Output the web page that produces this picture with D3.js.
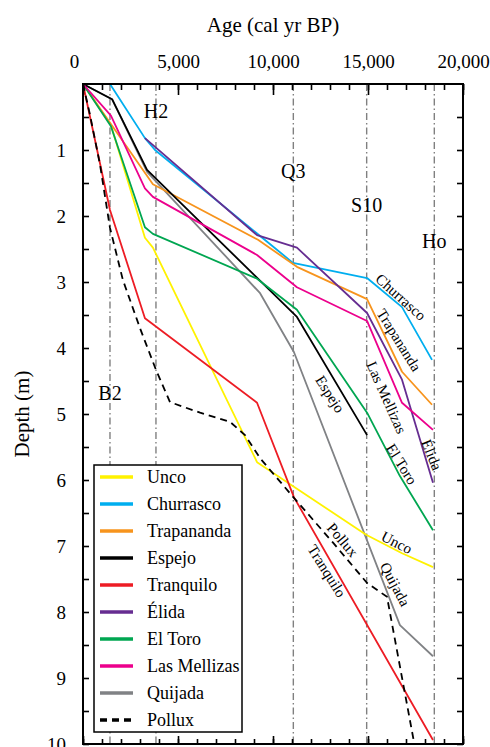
<!DOCTYPE html>
<html>
<head>
<meta charset="utf-8">
<script src="https://cdn.jsdelivr.net/npm/d3@7"></script>
<style>
  body { margin: 0; background: #fff; }
</style>
</head>
<body>
<script>
// age (cal yr BP), depth (m) pairs
var unco       = [[0,0],[1470,0.62],[3260,2.33],[3680,2.48],[9160,5.73],[14900,6.83],[16790,7.11],[18420,7.32]];
var churrasco  = [[1420,0],[3260,0.82],[3790,1.0],[11050,2.71],[14950,2.94],[16790,3.38],[18370,4.18]];
var trapananda = [[0,0],[3680,1.52],[9210,2.36],[11260,2.77],[14950,3.26],[16790,4.36],[18370,4.86]];
var espejo     = [[0,0],[1530,0.23],[3370,1.30],[11260,3.53],[14950,5.32]];
var tranquilo  = [[0,0],[1420,1.91],[3260,3.55],[9160,4.83],[11100,6.26],[18420,9.94]];
var elida      = [[3260,0.82],[9160,2.29],[11260,2.48],[14950,3.47],[16790,4.48],[18420,6.04]];
var elToro     = [[0,0],[1470,0.64],[3260,2.17],[3680,2.27],[9160,2.95],[11260,3.42],[14950,4.98],[16680,5.94],[18420,6.76]];
var mellizas   = [[0,0],[1470,0.48],[3260,1.58],[3680,1.71],[9160,2.59],[11260,3.08],[14950,3.59],[16790,4.83],[18420,5.24]];
var quijada    = [[0,0],[1530,0.23],[3370,1.33],[9320,3.17],[11100,4.06],[16680,8.20],[18420,8.67]];
var pollux     = [[0,0],[370,0.47],[900,1.23],[1420,2.18],[2100,2.97],[3000,3.70],[3840,4.33],[4580,4.82],
                  [6160,4.98],[7740,5.12],[8530,5.32],[9320,5.67],[11100,6.27],[13160,6.95],[14950,7.56],[16000,7.77],[17420,9.97]];

var names  = ["Unco","Churrasco","Trapananda","Espejo","Tranquilo","Élida","El Toro","Las Mellizas","Quijada","Pollux"];
var colors = ["#fff200","#00aeef","#f7941d","#000000","#ed1c24","#662d91","#00a651","#ec008c","#808285","#000000"];
var series = [unco, churrasco, trapananda, espejo, tranquilo, elida, elToro, mellizas, quijada, pollux];
var drawOrder = [8, 0, 1, 2, 3, 4, 5, 6, 7, 9];

// tephra / event markers
var events      = ["B2","H2","Q3","S10","Ho"];
var eventAges   = [1420, 3840, 11070, 14930, 18490];
var eventDepths = [4.79, 0.52, 1.42, 1.94, 2.48];

// labels along the curves: name, age, depth, angle
var curveLabels = [
  ["Churrasco", 16730, 3.23, 42],
  ["Trapananda", 16630, 3.88, 58],
  ["Las Mellizas", 15970, 4.75, 66],
  ["Élida", 18350, 5.62, 68],
  ["El Toro", 16770, 5.76, 58],
  ["Espejo", 13000, 4.70, 57],
  ["Unco", 16510, 6.95, 27],
  ["Quijada", 16420, 7.58, 62],
  ["Pollux", 13660, 6.91, 50],
  ["Tranquilo", 12830, 7.38, 58]
];

var serif = "Liberation Serif";

var width = 490, height = 747;
var margin = {top: 84, right: 27, bottom: 3, left: 83};

var svg = d3.select("body").append("svg")
    .attr("width", width)
    .attr("height", height);

var x = d3.scaleLinear().domain([0, 20000]).range([margin.left, width - margin.right]);
var y = d3.scaleLinear().domain([0, 10]).range([margin.top, height - margin.bottom]);

// event lines
svg.append("g").selectAll("line")
    .data(eventAges)
  .enter().append("line")
    .attr("x1", function(d) { return x(d); })
    .attr("x2", function(d) { return x(d); })
    .attr("y1", y(0))
    .attr("y2", y(10))
    .attr("stroke", "#808080")
    .attr("stroke-width", 1.4)
    .attr("stroke-dasharray", "7,3,1.5,3");

svg.append("g").selectAll("text")
    .data(events)
  .enter().append("text")
    .attr("x", function(d, i) { return x(eventAges[i]); })
    .attr("y", function(d, i) { return y(eventDepths[i]); })
    .attr("text-anchor", "middle")
    .attr("font-size", 20)
    .text(function(d) { return d; });

// curves
var line = d3.line()
    .x(function(d) { return x(d[0]); })
    .y(function(d) { return y(d[1]); });

svg.append("g").selectAll("path")
    .data(drawOrder)
  .enter().append("path")
    .attr("d", function(i) { return line(series[i]); })
    .attr("fill", "none")
    .attr("stroke", function(i) { return colors[i]; })
    .attr("stroke-width", 1.8)
    .attr("stroke-linejoin", "round")
    .attr("stroke-dasharray", function(i) { return names[i] === "Pollux" ? "7,5" : null; });

svg.append("g").selectAll("text")
    .data(curveLabels)
  .enter().append("text")
    .attr("transform", function(d) { return "translate(" + x(d[1]) + "," + y(d[2]) + ") rotate(" + d[3] + ")"; })
    .attr("text-anchor", "middle")
    .attr("dominant-baseline", "central")
    .attr("font-size", 15)
    .text(function(d) { return d[0]; });

// axes
svg.append("g")
    .attr("transform", "translate(0," + y(0) + ")")
    .call(d3.axisTop(x).tickValues(d3.range(0, 20001, 1000)).tickSize(-6).tickFormat(""));
svg.append("g")
    .attr("transform", "translate(0," + y(0) + ")")
    .call(d3.axisTop(x).tickValues(d3.range(0, 20001, 5000)).tickSize(-11).tickPadding(16).tickFormat(d3.format(",")))
    .call(function(g) {
      g.selectAll("text").attr("font-size", 19)
          .attr("dx", function(d) { return d === 0 ? -9 : 0; });
    });

svg.append("g")
    .attr("transform", "translate(0," + y(10) + ")")
    .call(d3.axisBottom(x).tickValues(d3.range(0, 20001, 1000)).tickSize(-5).tickFormat(""));
svg.append("g")
    .attr("transform", "translate(0," + y(10) + ")")
    .call(d3.axisBottom(x).tickValues(d3.range(0, 20001, 5000)).tickSize(-8).tickFormat(""));

svg.append("g")
    .attr("transform", "translate(" + x(0) + ",0)")
    .call(d3.axisLeft(y).tickValues(d3.range(0.5, 10, 1)).tickSize(-6).tickFormat(""));
svg.append("g")
    .attr("transform", "translate(" + x(0) + ",0)")
    .call(d3.axisLeft(y).tickValues(d3.range(1, 11, 1)).tickSize(-6).tickPadding(17))
    .call(function(g) { g.selectAll("text").attr("font-size", 19); });

svg.append("g")
    .attr("transform", "translate(" + x(20000) + ",0)")
    .call(d3.axisRight(y).tickValues(d3.range(0.5, 10.01, 0.5)).tickSize(-6).tickFormat(""));

svg.selectAll(".domain").remove();
svg.selectAll(".tick line").attr("stroke", "#000").attr("stroke-width", 1.6);

svg.append("rect")
    .attr("x", x(0))
    .attr("y", y(0))
    .attr("width", x(20000) - x(0))
    .attr("height", y(10) - y(0))
    .attr("fill", "none")
    .attr("stroke", "#000")
    .attr("stroke-width", 2);

// titles
svg.append("text")
    .attr("x", (x(0) + x(20000)) / 2)
    .attr("y", 32)
    .attr("text-anchor", "middle")
    .attr("font-size", 21)
    .text("Age (cal yr BP)");

svg.append("text")
    .attr("transform", "translate(29," + (y(0) + y(10)) / 2 + ") rotate(-90)")
    .attr("text-anchor", "middle")
    .attr("font-size", 21)
    .text("Depth (m)");

// legend
var legend = svg.append("g").attr("transform", "translate(94,465)");
legend.append("rect")
    .attr("width", 148)
    .attr("height", 267)
    .attr("fill", "#fff")
    .attr("stroke", "#000")
    .attr("stroke-width", 1.5);

var item = legend.selectAll("g.item")
    .data(names)
  .enter().append("g")
    .attr("class", "item")
    .attr("transform", function(d, i) { return "translate(0," + (12 + i * 27) + ")"; });

item.append("line")
    .attr("x1", 6)
    .attr("x2", 39)
    .attr("stroke", function(d, i) { return colors[i]; })
    .attr("stroke-width", 3.5)
    .attr("stroke-dasharray", function(d) { return d === "Pollux" ? "7,5" : null; });

item.append("text")
    .attr("x", 53)
    .attr("dominant-baseline", "central")
    .attr("font-size", 18)
    .text(function(d) { return d; });

// every text in a serif face
svg.selectAll("g").attr("font-family", null);
svg.selectAll("text").attr("font-family", serif).attr("fill", "#000");
</script>
</body>
</html>
